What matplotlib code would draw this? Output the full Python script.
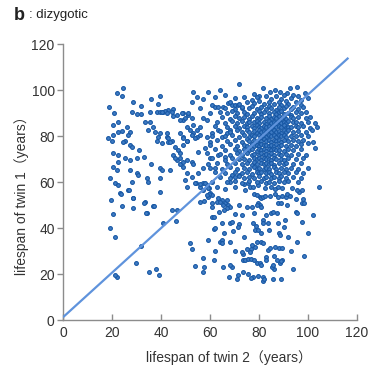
import matplotlib
matplotlib.use("Agg")
import matplotlib.pyplot as plt

# ---------------- data (twin2 lifespan, twin1 lifespan) ----------------
pts_left = [
    (24.5, 101), (22, 98.7), (24, 97.4), (18.8, 92.6), (28.6, 94.8), (36, 96), (39.6, 97.4),
    (38.8, 94), (21, 90), (22.4, 86), (20.4, 84.8), (28, 90.4), (30, 89.6), (32, 89.6),
    (35.5, 90.4), (38.4, 90.4), (39.6, 90.4), (40.8, 90.4), (42.8, 91.3), (45, 91.7),
    (46.5, 89), (49, 90), (51, 89), (52.6, 87.8), (20.4, 80.4), (18.4, 79), (20, 78),
    (22.4, 81.7), (24, 82.2), (26, 84), (27.3, 81.7), (26.5, 80.4), (25.3, 78), (24.5, 77.4),
    (27.3, 76), (28, 75.2), (33.5, 86), (35.5, 86), (36.7, 84), (34.7, 82.6), (37.5, 81.7),
    (39.6, 81.3), (38.8, 79.6), (38.4, 78), (40.4, 77), (42.4, 79.6), (42.8, 77.4), (44.5, 78),
    (45.7, 75.2), (47, 74), (47.8, 72.6), (45, 71.7), (49, 87), (50.6, 84), (51.8, 82.6),
    (53, 81.3), (54.7, 79.6), (49, 79.6), (50.6, 78), (20.4, 72.6), (22.4, 71.7), (20.4, 66.5),
    (22, 65.2), (19.2, 61.7), (21.2, 59.6), (25.3, 70.4), (27.3, 69.6), (30, 70.4), (27.3, 65.2),
    (30, 64), (30.6, 63), (34.3, 61.7), (34.7, 60), (39.6, 66), (43.7, 65.2), (46.5, 69.6),
    (47.8, 68), (49, 66.5), (50.6, 64), (52.6, 62), (22.4, 68.7), (23.3, 55.2), (26.5, 56.5),
    (28.6, 53), (24, 49.6), (28.6, 48.7), (33.5, 51.3), (36.7, 49.6), (34.3, 46.5),
    (21.2, 36), (22, 18.7), (21.3, 19.6), (29.8, 25), (35, 21), (38, 22), (39, 19.6),
    (32, 32), (41, 42), (46, 43), (44.5, 48), (46.5, 48), (34, 46.5), (23.7, 55), (27, 56.5),
    (28.6, 53), (33, 51), (37, 49.6), (39.6, 55.7), (22.4, 58.7), (28, 60), (19.5, 52),
    (20.3, 46), (19, 40), (53, 99), (54.7, 97), (52.6, 94.8), (41.6, 91), (40.4, 90.4),
    (42.4, 90), (44.5, 90.4), (45, 88.7), (48.6, 90), (51, 90), (49.8, 87.8), (47.8, 87),
    (42.4, 81.3), (42.8, 79), (43.7, 77.4), (47.8, 81.3), (49, 79), (50.6, 78), (49, 76),
    (40.4, 65.2), (39.6, 61.7), (47.8, 70.4), (49, 68.7), (50.6, 69.6), (52.6, 68.7),
    (53, 68), (45.7, 70.4), (49.8, 61), (50.6, 58), (31, 74), (33, 71), (36, 68), (32, 93),
]

pts_mid = [
    (57, 88), (58.8, 87), (60, 90), (61, 93.5), (62, 92.6), (63.3, 92.6), (65.3, 92.6),
    (67.3, 94.3), (69, 93.5), (70, 93.5), (71.4, 93.5), (73, 92), (56, 84), (54.7, 82.6),
    (53, 84.8), (52.6, 80.4), (54, 79), (56, 80.4), (58.8, 79.6), (60, 77.4), (61, 81.3),
    (63.3, 82.6), (65, 79.6), (67, 81.3), (68, 82.6), (60, 70.4), (63.3, 71.7), (66, 71),
    (58.8, 72.6), (69, 63), (70.2, 62), (72, 63), (54.3, 59.6), (56, 58), (57, 59.6),
    (57, 56.5), (58.8, 58.7), (59.6, 57.4), (60, 55.2), (60.8, 54.3), (59, 53.5),
    (63.3, 53), (65, 52), (66, 51), (67.3, 50), (53.9, 59.6), (55.9, 59), (58, 59.6),
    (59, 57.4), (59.6, 55), (58.8, 54.3), (57.6, 51.7), (55.9, 51.3), (57, 96), (59, 99),
    (62, 97), (64, 100), (66, 98), (56, 92), (58, 75), (55, 73), (57, 66), (55, 64),
    (59, 68), (62, 66), (63, 58), (66, 57), (68, 60),
]

pts_low = [
    (52, 33.5), (52.6, 31), (57, 27), (54, 23.5), (57.5, 23), (57, 21), (61.6, 26),
    (59, 35), (61.6, 39.6), (60.8, 45), (62, 40), (61.6, 45), (61, 49), (63.7, 47),
    (65, 42), (64, 34), (65, 35), (65, 33.5), (68, 34), (65.7, 37.8), (68, 42), (69, 42.6),
    (69.4, 38.7), (72, 41.7), (71.4, 40.4), (73, 45.6), (75, 49), (77, 49), (78, 46.5),
    (77.6, 42), (78.8, 41), (78.4, 39), (79.6, 39), (81, 37.8), (81.6, 43.5), (81.6, 42),
    (83.7, 42), (84, 39), (83, 45.6), (85, 46.5), (85.7, 47), (87.3, 46.5), (87.8, 42),
    (88, 37.8), (88.6, 37), (90, 40.4), (90.6, 43.5), (91.4, 50), (95, 47), (97.6, 42.6),
    (95.5, 34), (102, 45.6), (98.4, 28), (94, 22), (88.6, 25), (89.4, 26), (86, 22),
    (85.3, 23), (85.7, 24), (89, 17.8), (85.7, 18), (83.7, 30.4), (83, 27.4), (82.9, 26),
    (81.6, 18.7), (81.6, 17), (82, 17.8), (79.6, 19), (77.6, 18.7), (76.7, 18.3), (75.5, 20),
    (73.5, 20.9), (71.4, 19.6), (71, 17.8), (67.8, 18.7), (69, 23), (68, 24), (65.3, 23),
    (73.5, 26), (74.3, 26), (75.5, 26.5), (76.7, 26.5), (78, 26), (79.2, 25), (80.4, 24.8),
    (81, 24), (73.5, 28.7), (73, 29.6), (75, 30.9), (76.7, 30.9), (76.3, 29.6), (78.4, 31.7),
    (77, 32.6), (79, 34), (81, 34), (81.6, 33.5), (84.5, 31.3), (86.5, 31.7), (88, 31.3),
    (89.4, 31.3), (87.3, 26), (86, 27.8), (89, 25.6), (78, 55), (79, 54.3), (80.4, 53.5),
    (81, 53), (81.6, 53.5), (82.4, 54), (79.6, 51), (80.4, 50), (79, 50), (81, 49),
    (84.5, 54), (86.5, 55), (87.8, 53.5), (89.4, 54), (87.8, 51), (89, 51), (91, 53.5),
    (91.4, 55), (92.6, 54), (96.3, 55.7), (97.6, 51), (98.4, 51), (95.5, 46.5), (104.5, 57.8),
    (61, 51), (62.8, 51.3), (64, 51.3), (65.3, 50), (67, 52), (68, 49), (67, 48.7), (65.7, 47.8),
    (70, 57.8), (74, 59), (75.5, 59.6), (76.3, 58), (77.6, 58), (74.3, 56.5), (79.6, 58.5),
    (82.4, 57.5), (85, 58), (86.5, 57), (87.8, 57.8), (89.4, 57.4), (93.5, 57.4), (95.5, 56.5),
    (97.6, 56.5), (98, 52.6), (95, 52.6), (70, 46), (72, 50), (74, 36), (92, 36), (93, 30),
    (70, 30), (62, 30), (100, 38),
]

pts_dense = [
    (72, 102.5), (81.5, 101), (84.5, 99.3), (86.5, 100.2), (88.6, 99), (92.6, 101), (95.5, 101.2),
    (98.8, 98.7), (96, 97.2), (91.4, 98.5), (78, 98.2), (80, 97.5),
    (70, 96.4), (74, 97), (77, 95.8), (79, 96.8), (83, 97.3), (85, 96), (87, 97.5), (89, 96.3),
    (90, 97.8), (93, 96.5), (94, 97.8), (97, 95.6), (100, 96.5),
    (68, 94.6), (72, 94), (75, 95), (78, 94.2), (80, 95.3), (82, 94.1), (84, 95), (86, 93.8),
    (88, 94.9), (89, 93.6), (91, 95.2), (92, 94), (95, 94.6), (97, 93.4),
    (66, 92.2), (70, 91.8), (73, 92.6), (76, 92), (77, 93.1), (79, 91.6), (81, 92.7), (83, 91.9),
    (84, 93), (85, 92.3), (87, 91.5), (88, 92.8), (90, 92.1), (91, 93.2), (93, 91.7), (94, 92.6),
    (96, 91.9), (98, 92.4),
    (64, 90.3), (67, 89.8), (69, 90.7), (71, 89.9), (74, 90.5), (75, 89.4), (78, 90.2), (80, 90.9),
    (81, 89.6), (82, 90.4), (84, 89.8), (86, 90.6), (87, 89.5), (88, 90.3), (89, 91), (90, 89.7),
    (92, 90.2), (93, 89.3), (95, 90.5), (97, 89.8), (99, 90.4),
    (65, 88.1), (68, 87.6), (70, 88.5), (72, 87.8), (74, 88.3), (76, 87.4), (77, 88.8), (79, 88),
    (80, 87.3), (81, 88.4), (83, 87.9), (84, 88.7), (85, 87.5), (86, 88.2), (87, 87.7), (88, 88.6),
    (89, 87.4), (90, 88.1), (91, 87.6), (93, 88.4), (94, 87.7), (96, 88.2), (99, 87.9), (101, 88.4),
    (63, 86.2), (66, 85.7), (69, 86.4), (71, 85.8), (73, 86.6), (75, 85.5), (76, 86.3), (78, 85.9),
    (79, 86.7), (80, 85.6), (82, 86.1), (83, 85.4), (84, 86.5), (85, 85.8), (86, 86.3), (87, 85.5),
    (88, 86.4), (89, 85.7), (90, 86.2), (91, 85.6), (92, 86.5), (94, 85.9), (95, 86.3), (97, 85.7),
    (100, 86), (103, 85.6),
    (62, 84.3), (67, 83.8), (70, 84.4), (72, 83.6), (74, 84.5), (75, 83.9), (77, 84.2), (78, 83.5),
    (79, 84.6), (80, 84), (81, 83.4), (82, 84.3), (83, 83.8), (84, 84.5), (85, 83.6), (86, 84.2),
    (87, 83.7), (88, 84.4), (89, 83.9), (90, 84.6), (91, 83.5), (92, 84.1), (93, 83.7), (95, 84.3),
    (96, 83.8), (98, 84.4), (101, 83.6), (103.7, 84),
    (64, 82.2), (68, 81.7), (71, 82.4), (73, 81.9), (75, 82.5), (76, 81.6), (78, 82.2), (79, 81.5),
    (80, 82.6), (81, 81.8), (82, 82.3), (83, 81.6), (84, 82.4), (85, 81.9), (86, 82.6), (87, 81.7),
    (88, 82.2), (89, 81.5), (90, 82.4), (91, 81.8), (92, 82.5), (94, 81.9), (96, 82.3), (99, 81.7),
    (101.6, 82.6),
    (61, 80.2), (66, 79.8), (69, 80.5), (72, 79.7), (74, 80.3), (76, 79.6), (77, 80.6), (78, 79.9),
    (80, 80.4), (81, 79.5), (82, 80.2), (83, 79.7), (84, 80.5), (85, 79.8), (86, 80.3), (87, 79.6),
    (88, 80.4), (89, 79.9), (90, 80.6), (91, 79.7), (93, 80.2), (95, 79.8), (97, 80.4), (100, 79.9),
    (63, 78.3), (67, 77.7), (70, 78.2), (73, 77.6), (75, 78.5), (76, 77.8), (78, 78.4), (79, 77.5),
    (80, 78.1), (81, 77.7), (82, 78.5), (83, 77.9), (84, 78.3), (85, 77.6), (86, 78.4), (87, 77.8),
    (88, 78.2), (89, 77.5), (90, 78.3), (92, 77.8), (94, 78.4), (96, 77.7), (98, 78.2), (102, 77.4),
    (60, 76.2), (65, 75.7), (68, 76.4), (71, 75.8), (74, 76.3), (75, 75.5), (77, 76.5), (78, 75.8),
    (79, 76.2), (80, 75.6), (81, 76.4), (82, 75.9), (83, 76.3), (84, 75.5), (85, 76.1), (86, 75.7),
    (87, 76.4), (88, 75.8), (89, 76.2), (91, 75.6), (93, 76.3), (95, 75.8), (97, 76.4), (100, 76.8),
    (62, 74.3), (66, 73.7), (70, 74.2), (72, 73.6), (74, 74.5), (76, 73.8), (77, 74.3), (79, 73.6),
    (80, 74.4), (81, 73.9), (82, 74.2), (83, 73.5), (84, 74.3), (85, 73.8), (86, 74.5), (87, 73.7),
    (88, 74.1), (90, 73.6), (92, 74.3), (94, 73.8), (97, 74.2), (102.8, 75),
    (64, 72.2), (68, 71.7), (71, 72.4), (73, 71.8), (75, 72.5), (77, 71.6), (78, 72.3), (80, 71.9),
    (81, 72.5), (82, 71.6), (83, 72.2), (84, 71.8), (85, 72.4), (86, 71.7), (88, 72.2), (89, 71.6),
    (91, 72.3), (93, 71.8), (96, 72.2), (99, 71.7),
    (61, 70.3), (66, 69.7), (69, 70.4), (72, 69.8), (74, 70.2), (76, 69.6), (78, 70.5), (79, 69.8),
    (80, 70.3), (81, 69.6), (82, 70.4), (83, 69.9), (84, 70.2), (85, 69.7), (86, 70.5), (87, 69.8),
    (89, 70.2), (90, 69.6), (92, 70.3), (95, 69.9), (98, 70.4),
    (63, 68.2), (67, 67.8), (70, 68.4), (73, 67.7), (75, 68.3), (77, 67.6), (78, 68.5), (79, 67.9),
    (81, 68.2), (82, 67.7), (83, 68.4), (84, 67.8), (85, 68.2), (86, 67.6), (88, 68.3), (90, 67.8),
    (91, 68.4), (94, 67.9), (97, 68.2),
    (60, 66.3), (65, 65.8), (68, 66.4), (71, 65.7), (74, 66.2), (76, 65.6), (78, 66.5), (79, 65.8),
    (80, 66.3), (82, 65.7), (83, 66.2), (84, 65.6), (86, 66.4), (87, 65.8), (89, 66.2), (91, 65.7),
    (93, 66.3), (96, 65.8), (100, 66.1),
    (62, 64.2), (66, 63.7), (70, 64.4), (73, 63.8), (75, 64.3), (77, 63.6), (79, 64.2), (80, 63.7),
    (81, 64.5), (83, 63.9), (84, 64.3), (85, 63.6), (87, 64.2), (88, 63.8), (90, 64.4), (92, 63.7),
    (95, 64.2), (98, 63.8),
    (64, 62.3), (68, 61.8), (72, 62.4), (74, 61.7), (76, 62.2), (78, 61.6), (80, 62.4), (82, 61.8),
    (83, 62.3), (85, 61.7), (86, 62.2), (88, 61.6), (89, 62.4), (91, 61.8), (94, 62.2), (97, 61.7),
    (61, 60.2), (67, 59.8), (70, 60.4), (73, 59.7), (76, 60.3), (79, 59.8), (81, 60.4), (83, 59.6),
    (84, 60.2), (86, 59.7), (88, 60.3), (90, 59.8), (92, 60.4), (96, 59.9),
]

all_pts = pts_left + pts_mid + pts_low + pts_dense
twin2 = [p[0] for p in all_pts]
twin1 = [p[1] for p in all_pts]

# identity-like reference line end points (data units)
line_twin2 = [0, 116.5]
line_twin1 = [1.2, 114]

ticks = [0, 20, 40, 60, 80, 100, 120]

# ---------------- figure ----------------
plt.rcParams['font.family'] = ['Liberation Sans', 'Noto Sans CJK JP', 'DejaVu Sans']

fig = plt.figure(figsize=(3.7, 3.75), dpi=100)
ax = fig.add_axes([63 / 370, 55 / 375, 294 / 370, 276 / 375])

ax.scatter(twin2, twin1, s=7.5, c='#3f7cc4', edgecolors='#1757a4', linewidths=0.8, zorder=2)
ax.plot(line_twin2, line_twin1, color='#5f93dc', lw=1.6, zorder=3, solid_capstyle='butt')

ax.set_xlim(0, 120)
ax.set_ylim(0, 120)
ax.set_xticks(ticks)
ax.set_yticks(ticks)
for s in ['top', 'right']:
    ax.spines[s].set_visible(False)
for s in ['left', 'bottom']:
    ax.spines[s].set_color('#8c8c8c')
    ax.spines[s].set_linewidth(1.0)
ax.tick_params(axis='x', direction='in', length=4, width=1, color='#8c8c8c',
               labelsize=10, labelcolor='#333333', pad=4)
ax.tick_params(axis='y', direction='out', length=4, width=1, color='#8c8c8c',
               labelsize=10, labelcolor='#333333', pad=2)

ax.set_xlabel('lifespan of twin 2（years）', fontsize=10, color='#333333')
ax.xaxis.set_label_coords((229 - 63) / 294, (320 - 350) / 276)
ax.set_ylabel('lifespan of twin 1（years）', fontsize=10, color='#333333')
ax.yaxis.set_label_coords((29 - 63) / 294, (320 - 192) / 276)

fig.text(14 / 370, 1 - 15 / 375, 'b', fontsize=13, fontweight='bold', color='#222222', va='center')
fig.text(29 / 370, 1 - 15 / 375, ': dizygotic', fontsize=9.5, color='#222222', va='center')

fig.savefig('out.png', dpi=100)
